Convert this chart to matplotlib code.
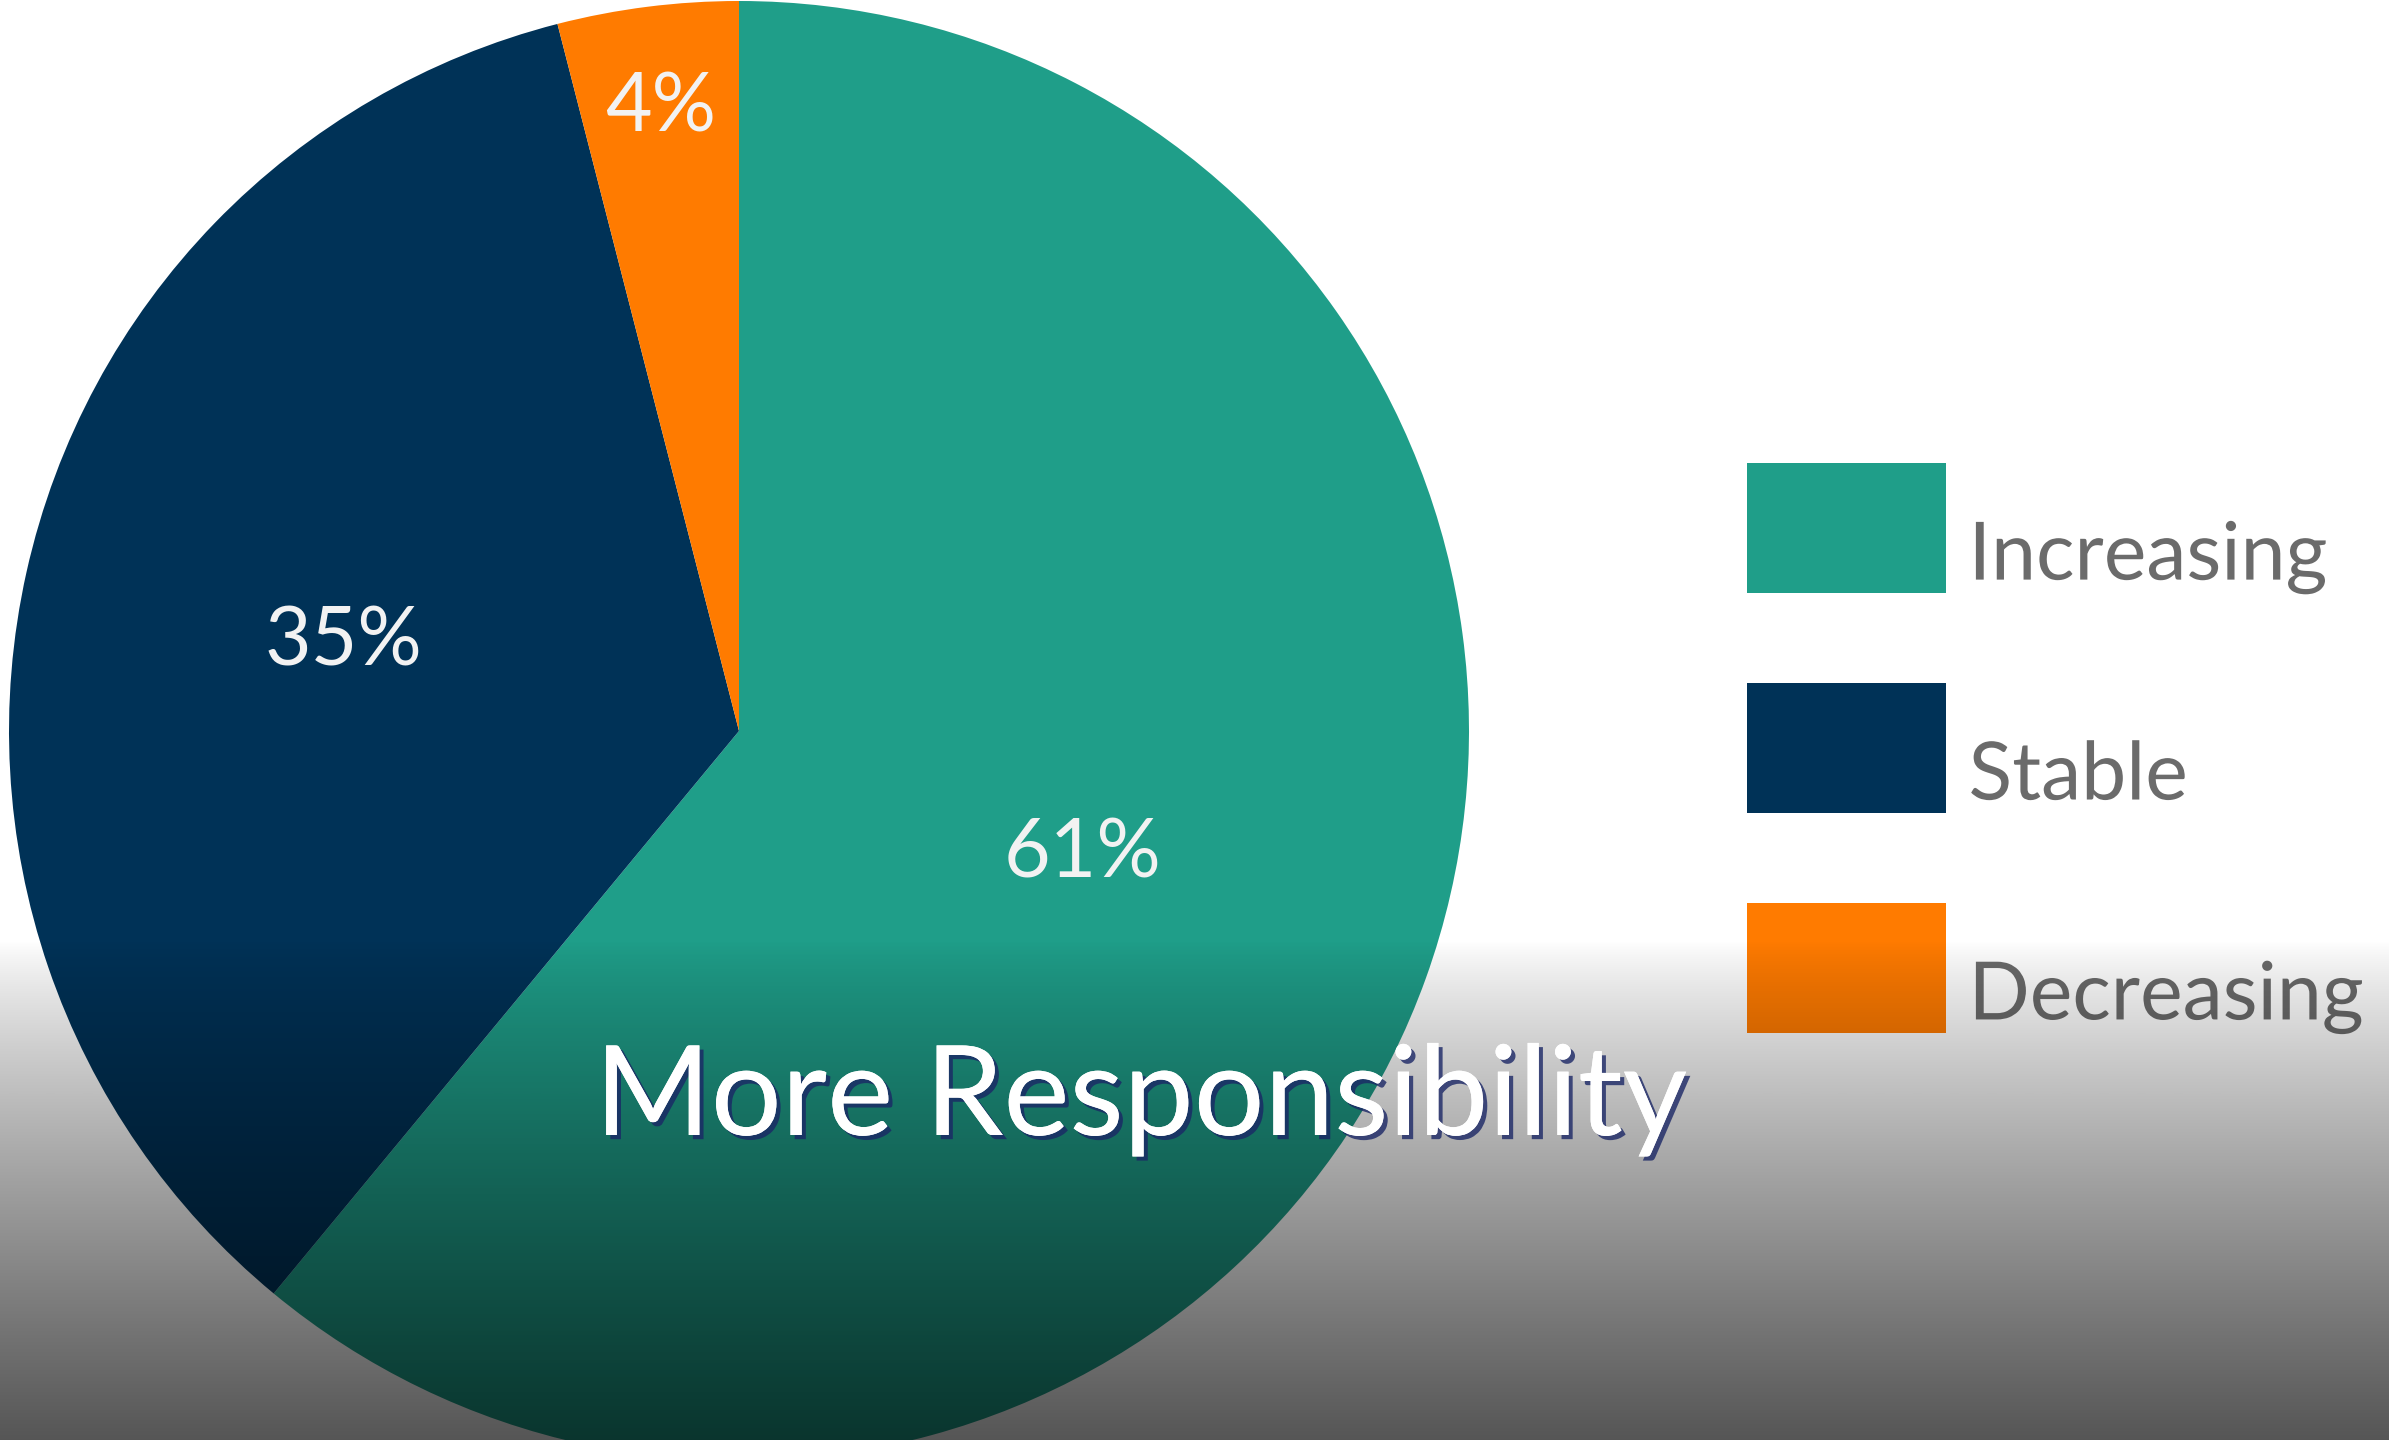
import numpy as np
import matplotlib
matplotlib.use("Agg")
import matplotlib.pyplot as plt
import matplotlib.patheffects as pe

categories = ["Increasing", "Stable", "Decreasing"]
values = [61, 35, 4]
colors = ["#1F9E89", "#003257", "#FF7B00"]
title = "More Responsibility"

W, H = 2389, 1440
fig = plt.figure(figsize=(W / 100, H / 100), dpi=100)
fig.patch.set_facecolor("white")
ax = fig.add_axes([0, 0, 1, 1])

label_dist = [0.50, 0.555, 0.86]
cx, cy, R = 739, H - 731, 730

wedges, texts, autotexts = ax.pie(
    values, colors=colors, startangle=90, counterclock=False,
    center=(cx, cy), radius=R, autopct="%d%%", pctdistance=0.5,
    wedgeprops=dict(linewidth=0), frame=True,
    textprops=dict(color="#F2F2F2", fontsize=58, family=["Lato", "DejaVu Sans"]),
)
for w, t, d in zip(wedges, autotexts, label_dist):
    ang = np.deg2rad((w.theta1 + w.theta2) / 2)
    t.set_position((cx + d * R * np.cos(ang), cy + d * R * np.sin(ang)))

ax.set_xlim(0, W)
ax.set_ylim(0, H)
ax.set_aspect("auto")
ax.axis("off")

leg = ax.legend(
    wedges, categories, loc="upper left",
    bbox_to_anchor=(1747 / W, 1 - 463 / H), bbox_transform=fig.transFigure,
    frameon=False, borderpad=0, borderaxespad=0,
    handlelength=2.47, handleheight=2.10, handletextpad=0.28, labelspacing=1.12,
    prop=dict(family=["Lato", "DejaVu Sans"], size=58),
)
for txt in leg.get_texts():
    txt.set_color("#6b6b6b")
    txt.set_path_effects([pe.SimplePatchShadow(offset=(0, -19), shadow_rgbFace="#6b6b6b", alpha=1.0)])
leg.set_zorder(5)

# darkening gradient at the bottom
y0, y1 = 940, H
n = 256
t = np.linspace(0, 1, n)
alpha = 0.667 * t ** 0.8
grad = np.zeros((n, 1, 4))
grad[:, 0, 3] = alpha
ax.imshow(grad, extent=(0, W, H - y1, H - y0), origin="upper", aspect="auto",
          zorder=6, interpolation="bilinear")
ax.set_xlim(0, W)
ax.set_ylim(0, H)

ax.text(1141, H - 1135, title, ha="center", va="baseline", color="white",
        fontsize=90, family=["Lato", "DejaVu Sans"], zorder=7,
        path_effects=[pe.withSimplePatchShadow(offset=(3, -3), shadow_rgbFace="#1b2766", alpha=0.8),
                      pe.Normal()])

fig.savefig("out.png", dpi=100)
